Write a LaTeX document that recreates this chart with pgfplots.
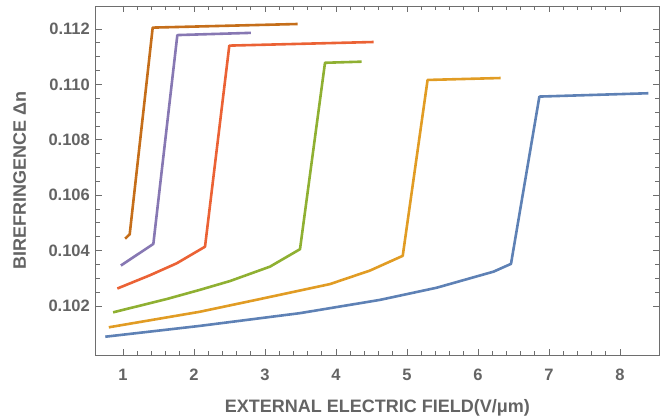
\documentclass[border=0pt]{standalone}
\usepackage{pgfplots}
\pgfplotsset{compat=1.18}
\usepackage{fontspec}
\setmainfont{Liberation Sans}
\definecolor{txtgray}{RGB}{100,100,100}
\definecolor{framegray}{RGB}{110,110,110}
\definecolor{c1}{HTML}{5E81B5}
\definecolor{c2}{HTML}{E19C24}
\definecolor{c3}{HTML}{8FB032}
\definecolor{c4}{HTML}{EB6235}
\definecolor{c5}{HTML}{8778B3}
\definecolor{c6}{HTML}{C56E1A}
\begin{document}
\begin{tikzpicture}
\begin{axis}[
  scale only axis,
  width=563.3pt, height=349pt,
  xmin=0.615, xmax=8.55,
  ymin=0.10023, ymax=0.11283,
  xtick={1,2,3,4,5,6,7,8},
  ytick={0.102,0.104,0.106,0.108,0.110,0.112},
  minor x tick num=4,
  minor y tick num=3,
  tick align=inside,
  major tick length=6pt,
  minor tick length=4pt,
  axis line style={framegray, line width=0.9pt},
  every tick/.style={framegray, line width=0.8pt},
  scaled y ticks=false,
  /pgf/number format/assume math mode=true,
  xticklabel style={anchor=center, yshift=-20pt, font=\fontsize{16.5}{16.5}\selectfont\bfseries, text=txtgray},
  yticklabel style={/pgf/number format/fixed, /pgf/number format/fixed zerofill, /pgf/number format/precision=3, anchor=east, inner sep=0pt, xshift=-5.7pt, font=\fontsize{16.5}{16.5}\selectfont\bfseries, text=txtgray},
  xlabel={EXTERNAL ELECTRIC FIELD(V/μm)},
  ylabel={BIREFRINGENCE Δn},
  xlabel style={at={(axis description cs:0.5,-0.1519)}, anchor=center, font=\fontsize{18}{18}\selectfont\bfseries, text=txtgray},
  ylabel style={at={(axis description cs:-0.1350,0.5)}, anchor=center, font=\fontsize{18}{18}\selectfont\bfseries, text=txtgray},
  every axis plot/.append style={line width=2.6pt, line join=round},
]
% blue
\addplot[c1] coordinates {(0.75,0.10089) (2.08,0.10128) (3.49,0.10174) (4.62,0.10222) (5.42,0.10266) (6.22,0.10324) (6.465,0.10352) (6.865,0.10956) (8.40,0.10968)};
% orange
\addplot[c2] coordinates {(0.80,0.10123) (2.08,0.10179) (2.93,0.10225) (3.915,0.10279) (4.48,0.10328) (4.94,0.10381) (5.29,0.11016) (6.32,0.11023)};
% green
\addplot[c3] coordinates {(0.86,0.10177) (1.615,0.10225) (2.08,0.10258) (2.507,0.1029) (3.07,0.10342) (3.493,0.10405) (3.845,0.11078) (4.36,0.11082)};
% red
\addplot[c4] coordinates {(0.92,0.10263) (1.38,0.10311) (1.756,0.10354) (2.155,0.10414) (2.497,0.1114) (4.53,0.11153)};
% purple
\addplot[c5] coordinates {(0.97,0.10346) (1.427,0.10424) (1.765,0.11178) (2.80,0.11186)};
% brown
\addplot[c6] coordinates {(1.03,0.10443) (1.094,0.10459) (1.418,0.11205) (3.46,0.11218)};
\end{axis}
\pgfresetboundingbox
\path ([shift={(-95.7pt,-65pt)}]current axis.south west) rectangle ([shift={(8pt,6pt)}]current axis.north east);
\end{tikzpicture}
\end{document}
